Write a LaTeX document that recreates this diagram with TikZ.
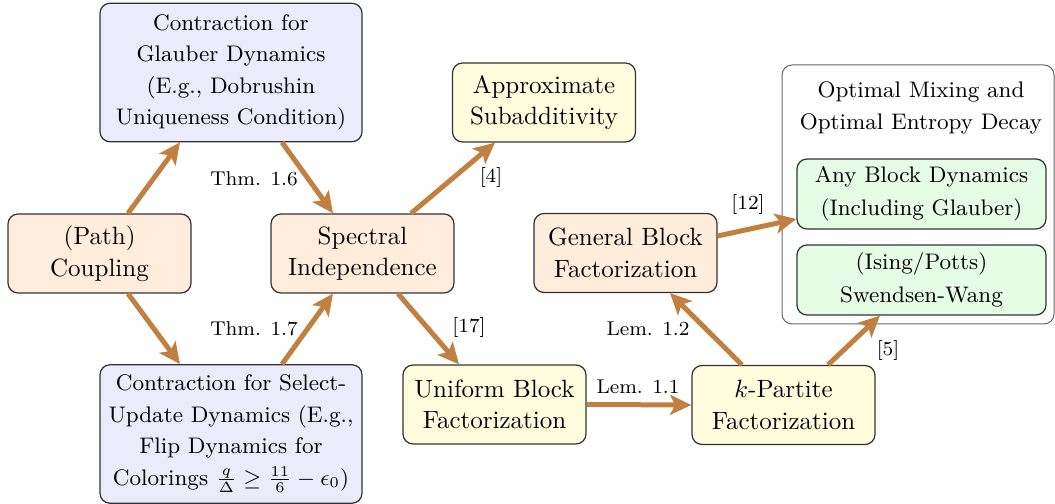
\documentclass[tikz,border=0pt]{standalone}
\usetikzlibrary{arrows.meta}
\definecolor{arrc}{RGB}{194,128,64}
\definecolor{fblue}{RGB}{235,235,252}
\definecolor{forange}{RGB}{255,236,218}
\definecolor{fyellow}{RGB}{255,252,222}
\definecolor{fgreen}{RGB}{229,253,229}
\begin{document}
\begin{tikzpicture}[x=0.4pt,y=-0.4pt,
  box/.style={draw=black!80, line width=0.5pt, rounded corners=4pt, align=center,
    inner sep=1pt, font=\fontsize{10}{12.6}\selectfont},
  std/.style={box, minimum width=73.2pt, minimum height=31.6pt},
  big/.style={box, fill=fblue, minimum width=104.8pt, minimum height=55.4pt,
    font=\fontsize{9}{12.6}\selectfont},
  gbox/.style={box, fill=fgreen, minimum width=99.6pt, minimum height=28pt,
    font=\fontsize{9}{13.2}\selectfont},
  outerbox/.style={draw=black!60, line width=0.4pt, rounded corners=4pt,
    minimum width=108.8pt, minimum height=103.6pt, inner sep=0pt},
  lab/.style={font=\footnotesize, inner sep=1pt},
  arr/.style={draw=arrc, line width=2pt, -{Stealth[length=8.5pt,width=8pt,inset=2pt]}}
]
\useasboundingbox (0,0) rectangle (1055,504);

\node[outerbox] (opt) at (918,194.5) {};
\node[align=center, font=\fontsize{9}{12.8}\selectfont, inner sep=0pt] (optt) at (921,108)
  {Optimal Mixing and\\Optimal Entropy Decay};

\node[big] (glauber) at (231,72.5)
  {Contraction for\\Glauber Dynamics\\(E.g., Dobrushin\\Uniqueness Condition)};
\node[std, fill=forange] (path) at (99.5,253.5) {(Path)\\Coupling};
\node[std, fill=forange] (spec) at (362.5,253.5) {Spectral\\Independence};
\node[std, fill=fyellow] (approx) at (544,102.5) {Approximate\\Subadditivity};
\node[big] (select) at (231,434)
  {Contraction for Select-\\Update Dynamics (E.g.,\\Flip Dynamics for\\Colorings $\frac{q}{\Delta}\geq\frac{11}{6}-\epsilon_0$)};
\node[std, fill=fyellow] (unif) at (494.5,404.5) {Uniform Block\\Factorization};
\node[std, fill=forange] (gen) at (625.5,253) {General Block\\Factorization};
\node[std, fill=fyellow] (kpart) at (783.5,405) {$k$-Partite\\Factorization};
\node[gbox] (anyb) at (921.5,194) {Any Block Dynamics\\(Including Glauber)};
\node[gbox] (sw) at (921.5,280) {(Ising/Potts)\\Swendsen-Wang};

\draw[arr] ([xshift=11.4pt]path.north) -- ([xshift=-20.4pt]glauber.south);
\draw[arr] ([xshift=20.4pt]glauber.south) -- ([xshift=-11.8pt]spec.north);
\draw[arr] ([xshift=11.4pt]path.south) -- ([xshift=-20.4pt]select.north);
\draw[arr] ([xshift=20.4pt]select.north) -- ([xshift=-11.8pt]spec.south);
\draw[arr] ([xshift=19.4pt]spec.north) -- ([xshift=-19.6pt]approx.south);
\draw[arr] ([xshift=14.2pt]spec.south) -- ([xshift=-14.2pt]unif.north);
\draw[arr] (unif.east) -- (kpart.west);
\draw[arr] ([xshift=-16.6pt]kpart.north) -- ([xshift=17.8pt]gen.south);
\draw[arr] ([yshift=6.8pt]gen.east) -- ([yshift=-10pt]anyb.west);
\draw[arr] ([xshift=17.8pt]kpart.north) -- ([xshift=-16.6pt]sw.south);

\node[lab] (l1) at (254,179) {Thm. 1.6};
\node[lab] (l2) at (254,329) {Thm. 1.7};
\node[lab] (l3) at (491,178) {[4]};
\node[lab] (l4) at (469,328) {[17]};
\node[lab] (l5) at (638,386.5) {Lem. 1.1};
\node[lab] (l6) at (648,329) {Lem. 1.2};
\node[lab] (l7) at (748,205) {[12]};
\node[lab] (l8) at (888,351) {[5]};
\end{tikzpicture}
\end{document}
